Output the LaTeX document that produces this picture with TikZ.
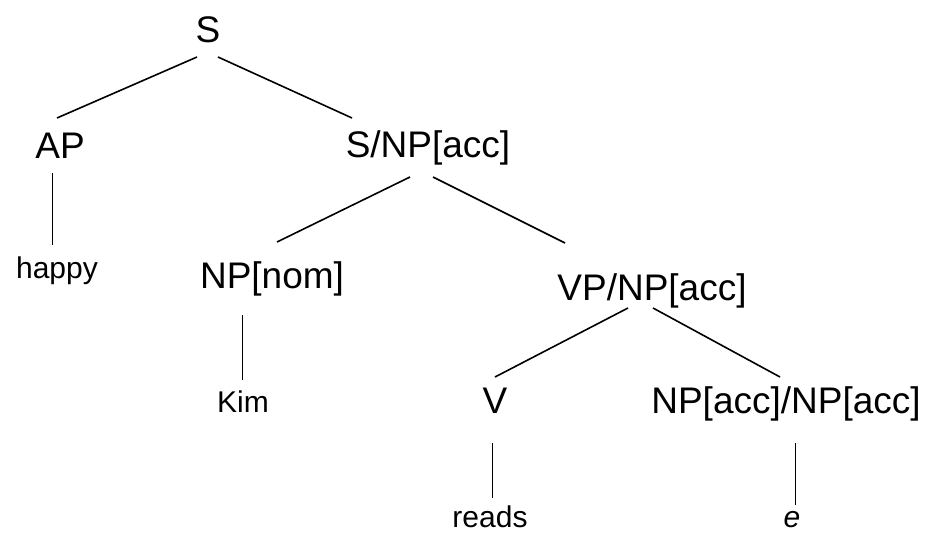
\documentclass[tikz,border=0pt]{standalone}
\usepackage{fontspec}
\setmainfont{Liberation Sans}
\usepackage{tikz}

\begin{document}
\begin{tikzpicture}[x=1pt, y=-1pt,
    cat/.style={anchor=base, inner sep=0pt, font=\fontsize{37}{40}\selectfont},
    word/.style={anchor=base, inner sep=0pt, font=\fontsize{30}{32}\selectfont},
    branch/.style={line width=1.6pt},
    stem/.style={line width=1pt}]
    \useasboundingbox (0,0) rectangle (925,535);

    % Categories
    \node[cat] (s) at (208,42) {S};
    \node[cat] (ap) at (60,158) {AP};
    \node[cat] (snp) at (428,157) {S/NP[acc]};
    \node[cat] (npnom) at (272,288) {NP[nom]};
    \node[cat] (vpnp) at (652,300) {VP/NP[acc]};
    \node[cat] (v) at (495,413) {V};
    \node[cat] (npnp) at (786,413) {NP[acc]/NP[acc]};

    % Words
    \node[word] (happy) at (57,278) {happy};
    \node[word] (kim) at (243,412) {Kim};
    \node[word] (reads) at (490,527) {reads};
    \node[word] (e) at (792,527) {\itshape e};

    % Branches
    \draw[branch] ([shift={(-11,15)}]s.base) -- ([shift={(-3,-40)}]ap.base);
    \draw[branch] ([shift={(10,15)}]s.base) -- ([shift={(-76,-39)}]snp.base);
    \draw[branch] ([shift={(-18,20)}]snp.base) -- ([shift={(5,-46)}]npnom.base);
    \draw[branch] ([shift={(5,20)}]snp.base) -- ([shift={(-87,-57)}]vpnp.base);
    \draw[branch] ([shift={(-24,8)}]vpnp.base) -- ([shift={(0,-36)}]v.base);
    \draw[branch] ([shift={(1,8)}]vpnp.base) -- ([shift={(-6,-36)}]npnp.base);

    % Lexical stems
    \draw[stem] ([shift={(-8,15)}]ap.base) -- ([shift={(-5,-33)}]happy.base);
    \draw[stem] ([shift={(-30,27)}]npnom.base) -- ([shift={(-1,-32)}]kim.base);
    \draw[stem] ([shift={(-3,30)}]v.base) -- ([shift={(2,-29)}]reads.base);
    \draw[stem] ([shift={(9,30)}]npnp.base) -- ([shift={(3,-22)}]e.base);
\end{tikzpicture}
\end{document}
